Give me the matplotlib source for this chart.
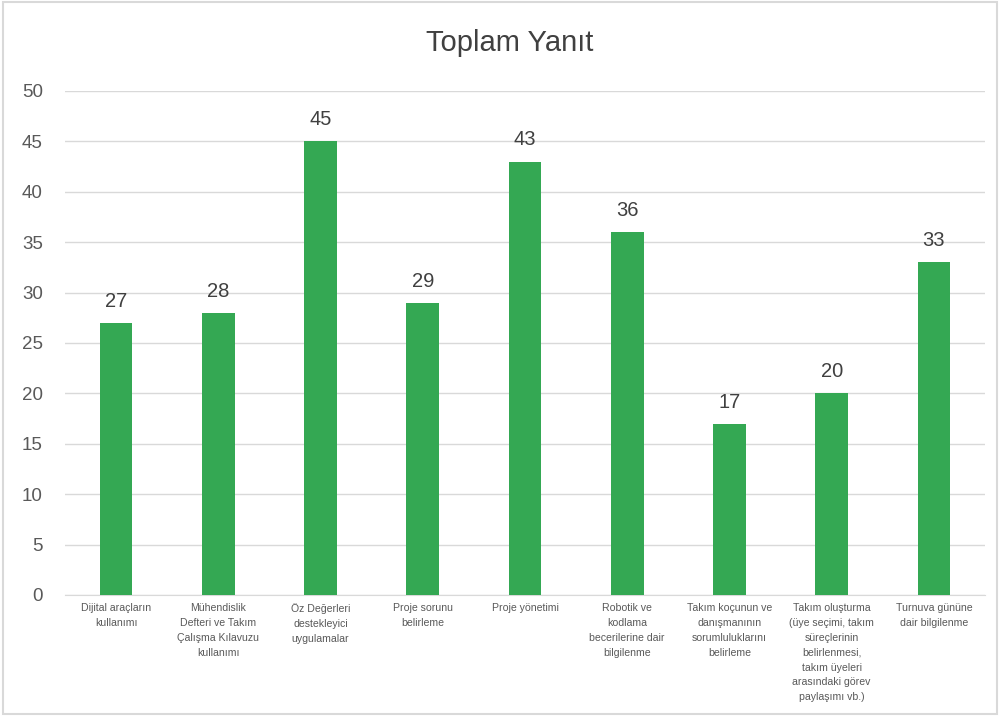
import matplotlib
matplotlib.use("Agg")
import matplotlib.pyplot as plt
from matplotlib.patches import Rectangle

# categories (wrapped as in the original chart)
categories = [
    "Dijital araçların\nkullanımı",
    "Mühendislik\nDefteri ve Takım\nÇalışma Kılavuzu\nkullanımı",
    "Öz Değerleri\ndestekleyici\nuygulamalar",
    "Proje sorunu\nbelirleme",
    "Proje yönetimi",
    "Robotik ve\nkodlama\nbecerilerine dair\nbilgilenme",
    "Takım koçunun ve\ndanışmanının\nsorumluluklarını\nbelirleme",
    "Takım oluşturma\n(üye seçimi, takım\nsüreçlerinin\nbelirlenmesi,\ntakım üyeleri\narasındaki görev\npaylaşımı vb.)",
    "Turnuva gününe\ndair bilgilenme",
]
values = [27, 28, 45, 29, 43, 36, 17, 20, 33]
y_ticks = [0, 5, 10, 15, 20, 25, 30, 35, 40, 45, 50]

plt.rcParams['font.family'] = ['Liberation Sans', 'DejaVu Sans']
text_col = '#595959'
bar_col = '#34a853'

fig = plt.figure(figsize=(10, 7.16), dpi=100)
ax = fig.add_axes([0.065, 0.169, 0.92, 0.704])

x = list(range(len(values)))
bars = ax.bar(x, values, width=0.32, color=bar_col, zorder=3)

for xi, v in zip(x, values):
    ax.text(xi, v + 1.2, str(v), ha='center', va='bottom', fontsize=14.5, color='#404040')

ax.set_xlim(-0.5, len(values) - 0.5)
ax.set_ylim(0, 50)
ax.set_yticks(y_ticks)
ax.tick_params(axis='y', length=0, labelsize=13.5, labelcolor=text_col, pad=16)
ax.set_xticks(x)
ax.set_xticklabels(categories, fontsize=7.6, color=text_col, linespacing=1.6)
ax.tick_params(axis='x', length=0, pad=6)
ax.grid(axis='y', color='#d9d9d9', linewidth=1, zorder=0)
for s in ['top', 'right', 'left']:
    ax.spines[s].set_visible(False)
ax.spines['bottom'].set_color('#d9d9d9')

fig.text(0.51, 0.94, "Toplam Yanıt", ha='center', va='center', fontsize=21, color='#404040')

# light border around the chart area
fig.patches.append(Rectangle((0.003, 0.003), 0.994, 0.994, transform=fig.transFigure,
                             fill=False, edgecolor='#d9d9d9', linewidth=1.5))

fig.savefig("out.png", dpi=100)
